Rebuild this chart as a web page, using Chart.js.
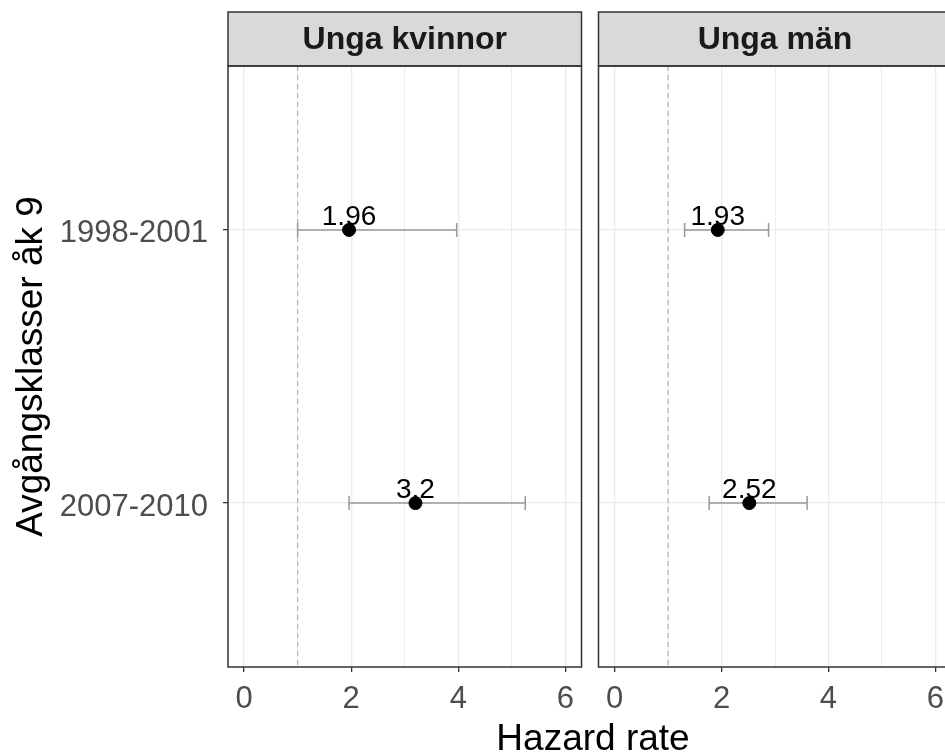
<!DOCTYPE html>
<html>
<head>
<meta charset="utf-8">
<script src="https://cdn.jsdelivr.net/npm/chart.js@4"></script>
<style>
  html, body { margin: 0; padding: 0; background: #fff; overflow: hidden; width: 945px; height: 754px; }
  canvas { position: absolute; top: 0; }
  #left { left: 0; }
  #right { left: 590px; }
  #xtitle {
    position: absolute; left: 0; top: 719px; width: 1186px; text-align: center;
    font: 37px "Liberation Sans", Arial, sans-serif; line-height: 37px; color: #000;
  }
</style>
</head>
<body>
<canvas id="left" width="590" height="754"></canvas>
<canvas id="right" width="370" height="754"></canvas>
<div id="xtitle">Hazard rate</div>
<script>
var categories = ['1998-2001', '2007-2010'];
var panelTitles = ['Unga kvinnor', 'Unga män'];

var womenEst = [1.96, 3.2];
var womenLow = [1.0, 1.96];
var womenHigh = [3.97, 5.25];

var menEst = [1.93, 2.52];
var menLow = [1.31, 1.77];
var menHigh = [2.88, 3.6];

var xTicks = [0, 1, 2, 3, 4, 5, 6];
var refLine = 1;
var yTitle = 'Avgångsklasser åk 9';

var FONT = '"Liberation Sans", Arial, sans-serif';

// strip, panel border and value labels (ggplot-like facets)
var facetPlugin = {
    id: 'facet',
    beforeDraw: function (chart) {
        var c = chart.ctx;
        c.save();
        c.fillStyle = '#fff';
        c.fillRect(0, 0, chart.width, chart.height);
        c.restore();
    },
    beforeDatasetDraw: function (chart, args) {
        if (args.index !== 0) return;
        var c = chart.ctx;
        var values = chart.data.datasets[0].data;
        c.save();
        c.font = '28px ' + FONT;
        c.fillStyle = '#000';
        c.textAlign = 'center';
        c.textBaseline = 'alphabetic';
        args.meta.data.forEach(function (pt, i) {
            c.fillText(String(values[i].x), pt.x, pt.y - 5);
        });
        c.restore();
    },
    afterDraw: function (chart, args, opts) {
        var a = chart.chartArea;
        var c = chart.ctx;
        c.save();
        c.fillStyle = '#d9d9d9';
        c.fillRect(a.left, 12, a.right - a.left, a.top - 12);
        c.strokeStyle = '#333';
        c.lineWidth = 1.5;
        c.strokeRect(a.left, 12, a.right - a.left, a.top - 12);
        c.strokeRect(a.left, a.top, a.right - a.left, a.bottom - a.top);
        c.fillStyle = '#1a1a1a';
        c.font = 'bold 32px ' + FONT;
        c.textAlign = 'center';
        c.textBaseline = 'middle';
        c.fillText(opts.title, (a.left + a.right) / 2, (12 + a.top) / 2 + 1);
        c.restore();
    }
};

function makePanel(id, title, est, low, high, showY, pad) {
    var datasets = [{
        data: est.map(function (v, i) { return { x: v, y: i }; }),
        pointRadius: 6.5,
        pointBackgroundColor: '#000',
        pointBorderColor: '#000',
        showLine: false
    }];
    est.forEach(function (v, i) {
        datasets.push({
            data: [{ x: low[i], y: i }, { x: high[i], y: i }],
            showLine: true,
            borderColor: '#999',
            borderWidth: 1.5,
            pointStyle: 'line',
            rotation: 90,
            pointRadius: 7,
            pointBorderColor: '#999',
            pointBorderWidth: 1.5
        });
    });
    datasets.push({
        data: [{ x: refLine, y: -0.6 }, { x: refLine, y: 1.6 }],
        showLine: true,
        borderColor: '#b3b3b3',
        borderWidth: 1.2,
        borderDash: [5, 4],
        pointRadius: 0
    });

    var ctx = document.getElementById(id).getContext('2d');
    return new Chart(ctx, {
        type: 'scatter',
        data: { datasets: datasets },
        plugins: [facetPlugin],
        options: {
            responsive: false,
            animation: false,
            devicePixelRatio: 1,
            layout: { padding: pad },
            plugins: {
                legend: { display: false },
                tooltip: { enabled: false },
                facet: { title: title }
            },
            scales: {
                x: {
                    type: 'linear',
                    min: -0.3,
                    max: 6.3,
                    afterBuildTicks: function (scale) {
                        scale.ticks = xTicks.map(function (v) { return { value: v }; });
                    },
                    afterFit: function (scale) { scale.height = 87; },
                    border: { display: false },
                    grid: {
                        color: '#ebebeb',
                        lineWidth: function (c) { return c.tick && c.tick.value % 2 === 0 ? 1.3 : 0.9; },
                        tickColor: function (c) { return c.tick && c.tick.value % 2 === 0 ? '#333' : 'rgba(0,0,0,0)'; },
                        tickLength: 5
                    },
                    ticks: {
                        autoSkip: false,
                        maxRotation: 0,
                        padding: 9,
                        color: '#4d4d4d',
                        font: { family: FONT, size: 31 },
                        callback: function (v) { return v % 2 === 0 ? String(v) : ''; }
                    }
                },
                y: {
                    type: 'linear',
                    reverse: true,
                    min: -0.6,
                    max: 1.6,
                    afterBuildTicks: function (scale) {
                        scale.ticks = categories.map(function (c, i) { return { value: i }; });
                    },
                    afterFit: function (scale) { scale.width = showY ? 228 : 0; },
                    border: { display: false },
                    grid: {
                        color: '#ebebeb',
                        lineWidth: 1.3,
                        tickColor: '#333',
                        tickLength: 5,
                        drawTicks: showY
                    },
                    ticks: {
                        display: showY,
                        padding: 15,
                        labelOffset: 4,
                        color: '#4d4d4d',
                        font: { family: FONT, size: 31 },
                        callback: function (v, i) { return categories[i]; }
                    },
                    title: {
                        display: showY,
                        text: yTitle,
                        color: '#000',
                        font: { family: FONT, size: 37 },
                        padding: { top: 10, bottom: 4 }
                    }
                }
            }
        }
    });
}

document.addEventListener('DOMContentLoaded', function () {
    makePanel('left', panelTitles[0], womenEst, womenLow, womenHigh, true,
        { top: 66, right: 7, bottom: 0, left: 0 });
    makePanel('right', panelTitles[1], menEst, menLow, menHigh, false,
        { top: 66, right: 8, bottom: 0, left: 7 });
});
</script>
</body>
</html>
